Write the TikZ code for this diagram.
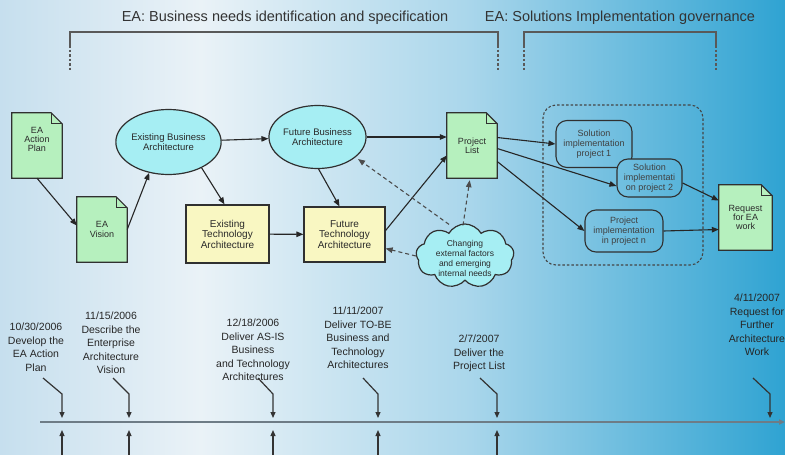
\documentclass[tikz,border=0pt]{standalone}
\usepackage{fontspec}
\setmainfont{Liberation Sans}
\usetikzlibrary{arrows.meta,shapes.geometric,shapes.symbols,calc}

\pgfdeclarelayer{bg}
\pgfdeclarelayer{under}
\pgfsetlayers{bg,under,main}

\definecolor{bgA}{HTML}{C6DFEE}
\definecolor{bgB}{HTML}{EAF2F7}
\definecolor{bgC}{HTML}{A9D6EB}
\definecolor{bgD}{HTML}{2FA3D2}
\definecolor{docgreen}{HTML}{B6F0BE}
\definecolor{ellcyan}{HTML}{A6EEF3}
\definecolor{boxyellow}{HTML}{F9F7C2}
\definecolor{ink}{HTML}{2A2A2A}
\definecolor{edge}{HTML}{303030}
\definecolor{axisgrey}{HTML}{6E7C86}
\definecolor{projL}{HTML}{72C0E0}
\definecolor{projR}{HTML}{58B4DA}

% document symbol with a folded top-right corner, drawn behind the named node
\newcommand\docshape[1]{%
  \begin{pgfonlayer}{under}
    \filldraw[docbody] (#1.south west) -- (#1.north west) -- ([xshift=-11pt]#1.north east)
      -- ([yshift=-11pt]#1.north east) -- (#1.south east) -- cycle;
    \draw[docbody, fill=none] ([xshift=-11pt]#1.north east) -- ([xshift=-11pt,yshift=-11pt]#1.north east)
      -- ([yshift=-11pt]#1.north east);
  \end{pgfonlayer}}

% milestone: label, elbow pointer down onto the time axis
\newcommand\milestone[6]{%
  \node[tl] (#1) at (#2,#3) {#6};
  \coordinate (#1a) at (#5,378);
  \coordinate (#1b) at (#4,394);
  \coordinate (#1c) at (#4,418);
  \draw[tick] (#1a) -- (#1b) -- (#1c);}

\begin{document}
\begin{tikzpicture}[x=1pt,y=-1pt,
  every node/.style={text=ink},
  hdr/.style={font=\fontsize{14.5}{16}\selectfont, text=black!80, inner sep=0pt},
  docbody/.style={draw=edge, line width=1.2pt, fill=docgreen, line join=miter},
  doc/.style={minimum width=50pt, minimum height=65pt, inner sep=0pt, align=center,
    font=\fontsize{9}{9.3}\selectfont},
  ell/.style={ellipse, draw=edge, line width=1.2pt, fill=ellcyan, inner sep=0pt, align=center,
    font=\fontsize{9.5}{10.5}\selectfont},
  tbox/.style={rectangle, draw=edge, line width=1.2pt, fill=boxyellow, inner sep=0pt, align=center,
    font=\fontsize{10}{10.5}\selectfont},
  grp/.style={rectangle, rounded corners=13pt, draw=edge!90, line width=1.1pt,
    dash pattern=on 2.5pt off 2pt},
  proj/.style={rectangle, rounded corners=11pt, draw=edge, line width=1.1pt, inner sep=0pt,
    align=center, font=\fontsize{9}{10}\selectfont, text=black!75},
  cloudn/.style={cloud, cloud puffs=9, cloud puff arc=120, aspect=1.5, draw=edge,
    line width=1.2pt, fill=ellcyan, inner sep=0pt},
  arr/.style={-{Triangle[length=7pt,width=5.5pt]}, line width=1.1pt, draw=black!85},
  darr/.style={-{Triangle[length=7pt,width=5.5pt]}, line width=1.1pt, draw=black!70,
    dash pattern=on 4pt off 3pt},
  brk/.style={draw=black!65, line width=1.4pt},
  brkdot/.style={draw=black!65, line width=1.4pt, dash pattern=on 2.5pt off 2pt},
  tl/.style={font=\fontsize{10.5}{13.5}\selectfont, align=center, inner sep=0pt, anchor=north,
    text=black!85},
  tick/.style={-{Triangle[length=6pt,width=5pt]}, line width=1.2pt, draw=black!80},
  axis/.style={-{Triangle[length=6pt,width=5pt]}, line width=2.2pt, draw=axisgrey}]

\useasboundingbox (0,0) rectangle (785,455);
\clip (0,0) rectangle (785,455);

% background wash
\begin{pgfonlayer}{bg}
  \shade[left color=bgA, right color=bgB] (0,0) rectangle (201,455);
  \shade[left color=bgB, right color=bgC] (200,0) rectangle (471,455);
  \shade[left color=bgC, right color=bgD] (470,0) rectangle (785,455);
\end{pgfonlayer}

% phase headers and brackets
\node[hdr] (hdr1) at (285,18) {EA: Business needs identification and specification};
\node[hdr] (hdr2) at (620,18) {EA: Solutions Implementation governance};
\coordinate (b1l) at (70,45);  \coordinate (b1r) at (498,45);
\coordinate (b2l) at (524,45); \coordinate (b2r) at (716,45);
\draw[brk] (b1l) |- (498,32) -- (b1r);
\draw[brk] (b2l) |- (716,32) -- (b2r);
\draw[brkdot] (b1l) -- ++(0,25);
\draw[brkdot] (b1r) -- ++(0,25);
\draw[brkdot] (b2l) -- ++(0,25);
\draw[brkdot] (b2r) -- ++(0,25);

% documents
\node[doc] (plan) at (37,145.5) {EA\\Action\\Plan\\[3pt]};
\node[doc] (vision) at (102,229.5) {EA\\Vision};
\node[doc] (plist) at (472,145.5) {Project\\List};
\node[doc, minimum width=53pt] (req) at (745.5,217.5) {Request\\for EA\\work};
\foreach \d in {plan,vision,plist,req} {\docshape{\d}}

% architectures
\node[ell, minimum width=93pt, minimum height=65pt] (eba) at (168.5,142) {Existing Business\\Architecture};
\node[ell, minimum width=91pt, minimum height=63pt] (fba) at (317.5,137) {Future Business\\Architecture};
\node[tbox, minimum width=83pt, minimum height=58pt] (eta) at (227.5,234) {Existing\\Technology\\Architecture};
\node[tbox, minimum width=81pt, minimum height=55pt] (fta) at (344.5,234.5) {Future\\Technology\\Architecture};

% drivers
\node[cloudn, minimum width=98pt, minimum height=64pt] (cloud) at (465,256) {};
\node[font=\fontsize{8.5}{10}\selectfont, align=center, inner sep=0pt] (cloudtxt) at (465,258)
  {Changing\\external factors\\and emerging\\internal needs};

% implementation projects
\node[grp, minimum width=160pt, minimum height=160pt] (grp) at (623,185) {};
\node[proj, minimum width=76pt, minimum height=47pt] (s1) at (594,144) {Solution\\implementation\\project 1};
\node[proj, minimum width=65pt, minimum height=38pt, left color=projL, right color=projR] (s2) at (649.5,178)
  {Solution\\implementati\\on project 2};
\node[proj, minimum width=78pt, minimum height=42pt] (sn) at (624,231) {Project\\implementation\\in project n};

% flow
\draw[arr] (plan.south) -- ([yshift=4pt]vision.west);
\draw[arr] (vision.east) -- (eba.238);
\draw[arr] (eba) -- (fba);
\draw[arr] (eba.322) -- ([xshift=-3pt]eta.north);
\draw[arr] (eta) -- (fta);
\draw[arr] (fba.272) -- ([xshift=-5pt]fta.north);
\draw[arr] (fba.east) -- (fba.east -| plist.west);
\draw[arr] ([yshift=4pt]fta.east) -- ([yshift=-10pt]plist.west);
\draw[darr, shorten >=3pt] ([xshift=-16pt,yshift=-1pt]cloud.north) -- (fba.-28);
\draw[darr, shorten >=2pt] ([xshift=-2pt,yshift=-2pt]cloud.north) -- ([xshift=-2pt]plist.south);
\draw[darr] (cloud.west) -- ([yshift=-14pt]fta.east);
\draw[arr] ([yshift=8pt]plist.east) -- (s1.west);
\draw[arr] ([yshift=-3pt]plist.east) -- ([yshift=-8pt]s2.west);
\draw[arr] ([yshift=-16pt]plist.east) -- (sn.west);
\draw[arr] ([yshift=-5pt]s2.east) -- ([yshift=17pt]req.west);
\draw[arr] (sn.east) -- ([yshift=-12pt]req.west);

% time axis
\coordinate (t0) at (40,422);
\coordinate (t1) at (785,422);
\draw[axis] (t0) -- (t1);

\milestone{m1}{36}{323}{62}{43}{10/30/2006\\Develop the\\EA Action\\Plan}
\milestone{m2}{111}{312}{129}{113}{11/15/2006\\Describe the\\Enterprise\\Architecture\\Vision}
\milestone{m3}{253}{319}{273}{258}{12/18/2006\\Deliver AS-IS\\Business\\and Technology\\Architectures}
\milestone{m4}{358}{307}{378}{363}{11/11/2007\\Deliver TO-BE\\Business and\\Technology\\Architectures}
\milestone{m5}{479}{335}{497}{480}{2/7/2007\\Deliver the\\Project List}
\milestone{m6}{757}{294}{770}{753}{4/11/2007\\Request for\\Further\\Architecture\\Work}

% pointers from below
\foreach \x [count=\i] in {62,129,273,378,497} {
  \coordinate (up\i) at (\x,456);
  \coordinate (upt\i) at (\x,430);
  \draw[tick] (up\i) -- (upt\i);
}
\end{tikzpicture}
\end{document}
